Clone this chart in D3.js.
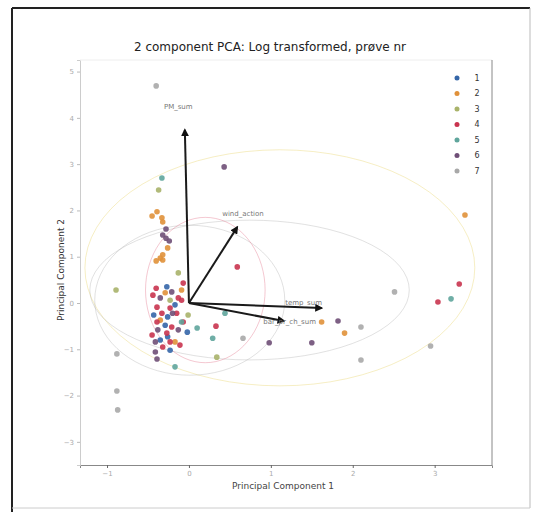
<!DOCTYPE html>
<html>
<head>
<meta charset="utf-8">
<script src="https://cdn.jsdelivr.net/npm/d3@7"></script>
<style>
  body { margin: 0; background: #fff; }
  svg text { font-family: "DejaVu Sans", sans-serif; }
</style>
</head>
<body>
<div id="chart"></div>
<script>
var width = 535,
    height = 515

// groups (prøve nr) and their colours
var groups = ["1", "2", "3", "4", "5", "6", "7"]
var groupColors = ["#3566a8", "#e0913a", "#a9b36a", "#c9344f", "#5fa59c", "#6f4f77", "#a8a8a8"]

// scores: [pc1, pc2] per group
var scores1 = [[-0.27, 0.35], [-0.17, -0.04], [-0.26, -0.30], [-0.29, -0.48], [-0.35, -0.80],
               [-0.02, -0.63], [-0.43, -0.26], [-0.23, -1.02], [-0.26, -0.73]]
var scores2 = [[-0.45, 1.88], [-0.39, 1.97], [-0.33, 1.84], [-0.32, 1.75], [-0.26, 1.19],
               [-0.32, 1.04], [-0.35, 0.97], [-0.40, 0.91], [-0.32, 0.93], [3.37, 1.90],
               [1.90, -0.65], [1.62, -0.41], [-0.09, 0.28], [-0.17, -0.84], [-0.29, 0.22], [-0.35, -0.37]]
var scores3 = [[-0.37, 2.44], [-0.89, 0.28], [-0.13, 0.65], [0.34, -1.17], [-0.01, -0.26], [-0.23, 0.06]]
var scores4 = [[0.59, 0.78], [3.30, 0.41], [3.04, 0.02], [0.33, -0.50], [-0.07, -0.41],
               [-0.40, 0.32], [-0.07, 0.43], [-0.39, -0.09], [-0.33, -0.22], [-0.39, -0.41],
               [-0.21, -0.52], [-0.27, -0.65], [-0.23, -0.84], [-0.15, -0.22], [-0.44, 0.17],
               [-0.13, 0.11], [-0.32, -0.95], [-0.09, 0.06], [-0.23, -0.11], [-0.45, -0.69], [-0.11, -0.91]]
var scores5 = [[-0.33, 2.70], [0.10, -0.54], [0.44, -0.22], [0.29, -0.76], [-0.17, -1.38],
               [-0.09, -0.41], [3.20, 0.09]]
var scores6 = [[-0.28, 1.60], [-0.32, 1.47], [-0.28, 1.40], [-0.24, 1.34], [0.43, 2.94],
               [1.50, -0.86], [-0.39, -1.21], [-0.21, 0.24], [-0.35, 0.11], [-0.20, -0.22],
               [-0.38, -0.58], [-0.41, -0.84], [-0.13, -0.58], [-0.41, -1.06], [0.98, -0.86], [1.82, -0.39]]
var scores7 = [[-0.40, 4.69], [-0.88, -1.90], [-0.87, -2.31], [-0.88, -1.10], [2.51, 0.24],
               [2.95, -0.93], [2.10, -0.52], [2.10, -1.23], [0.66, -0.76]]
var scoresByGroup = [scores1, scores2, scores3, scores4, scores5, scores6, scores7]

// loadings (arrow tips) and where their names sit
var loadingNames = ["PM_sum", "wind_action", "temp_sum", "bar_pr_ch_sum"]
var loadingX = [-0.05, 0.59, 1.62, 1.16]
var loadingY = [3.74, 1.64, -0.11, -0.39]
var labelX = [-0.13, 0.66, 1.40, 1.23]
var labelY = [4.25, 1.94, 0.00, -0.39]

// confidence ellipses: centre, radii (data units), colour
var ellipseCx = [1.11, 0.74, 0.01, 0.20]
var ellipseCy = [0.76, 0.28, 0.06, 0.28]
var ellipseRx = [2.38, 1.95, 1.16, 0.73]
var ellipseRy = [2.55, 1.51, 1.62, 1.57]
var ellipseColors = ["#e6cf55", "#aaaaaa", "#aaaaaa", "#e0607a"]

var xTicks = [-1, 0, 1, 2, 3]
var yTicks = [-3, -2, -1, 0, 1, 2, 3, 4, 5]

var svg = d3.select('#chart')
  .append('svg')
  .attr('width', width)
  .attr('height', height)

// scanned page frame
svg.append('line').attr('x1', 12).attr('y1', 8).attr('x2', 530).attr('y2', 8)
  .attr('stroke', '#222').attr('stroke-width', 2)
svg.append('line').attr('x1', 12).attr('y1', 8).attr('x2', 12).attr('y2', 512)
  .attr('stroke', '#222').attr('stroke-width', 2)
svg.append('line').attr('x1', 530).attr('y1', 8).attr('x2', 530).attr('y2', 508)
  .attr('stroke', '#bbb').attr('stroke-width', 1)
svg.append('line').attr('x1', 12).attr('y1', 508).attr('x2', 530).attr('y2', 508)
  .attr('stroke', '#ccc').attr('stroke-width', 1)

const x = d3.scaleLinear().domain([-1.33, 3.70]).range([80, 492])
const y = d3.scaleLinear().domain([-3.5, 5.25]).range([465, 60])

// ellipses
var ellipseLine = d3.line().curve(d3.curveLinearClosed)
ellipseCx.forEach(function (cx, i) {
  var pts = d3.range(0, 72).map(function (k) {
    var t = k / 72 * 2 * Math.PI
    return [x(cx + ellipseRx[i] * Math.cos(t)), y(ellipseCy[i] + ellipseRy[i] * Math.sin(t))]
  })
  svg.append('path')
    .attr('d', ellipseLine(pts))
    .attr('fill', 'none')
    .attr('stroke', ellipseColors[i])
    .attr('stroke-opacity', 0.35)
    .attr('stroke-width', 1)
})

// axes
svg.append('g')
  .attr('transform', 'translate(0,465)')
  .call(d3.axisBottom(x).tickValues(xTicks).tickSize(3).tickFormat(d3.format('d')))
  .call(g => g.select('.domain').attr('stroke', '#888'))
  .call(g => g.selectAll('.tick line').attr('stroke', '#666'))
  .call(g => g.selectAll('text').attr('fill', '#aaa').attr('font-size', 7))

svg.append('g')
  .attr('transform', 'translate(80,0)')
  .call(d3.axisLeft(y).tickValues(yTicks).tickSize(3).tickFormat(d3.format('d')))
  .call(g => g.select('.domain').attr('stroke', '#ccc'))
  .call(g => g.selectAll('.tick line').attr('stroke', '#bbb'))
  .call(g => g.selectAll('text').attr('fill', '#aaa').attr('font-size', 7))

svg.append('line').attr('x1', 80).attr('y1', 60).attr('x2', 492).attr('y2', 60)
  .attr('stroke', '#eee')
svg.append('line').attr('x1', 492).attr('y1', 60).attr('x2', 492).attr('y2', 465)
  .attr('stroke', '#888')

// points
scoresByGroup.forEach(function (pts, gi) {
  svg.append('g').selectAll('circle')
    .data(pts)
    .enter().append('circle')
    .attr('cx', d => x(d[0]))
    .attr('cy', d => y(d[1]))
    .attr('r', 2.8)
    .attr('fill', groupColors[gi])
    .attr('fill-opacity', 0.9)
})

// loading arrows
svg.append('defs').append('marker')
  .attr('id', 'head')
  .attr('viewBox', '0 0 10 10')
  .attr('refX', 8).attr('refY', 5)
  .attr('markerWidth', 4).attr('markerHeight', 4)
  .attr('orient', 'auto')
  .append('path').attr('d', 'M0,0L10,5L0,10z').attr('fill', '#111')

loadingNames.forEach(function (name, i) {
  svg.append('line')
    .attr('x1', x(0)).attr('y1', y(0))
    .attr('x2', x(loadingX[i])).attr('y2', y(loadingY[i]))
    .attr('stroke', '#1a1a1a')
    .attr('stroke-width', 2)
    .attr('marker-end', 'url(#head)')
  svg.append('text')
    .attr('x', x(labelX[i])).attr('y', y(labelY[i]))
    .attr('dy', '0.35em')
    .attr('text-anchor', 'middle')
    .attr('font-size', 7)
    .attr('fill', '#777')
    .text(name)
})

// legend
var legend = svg.append('g').selectAll('g')
  .data(groups)
  .enter().append('g')
  .attr('transform', (d, i) => 'translate(457,' + (78 + i * 15.5) + ')')
legend.append('circle').attr('r', 2.5).attr('fill', (d, i) => groupColors[i])
legend.append('text')
  .attr('x', 20).attr('dy', '0.35em')
  .attr('text-anchor', 'middle')
  .attr('font-size', 8)
  .attr('fill', '#333')
  .text(d => d)

// titles
svg.append('text')
  .attr('x', 270).attr('y', 51)
  .attr('text-anchor', 'middle')
  .attr('font-size', 12)
  .attr('fill', '#222')
  .text('2 component PCA: Log transformed, prøve nr')

svg.append('text')
  .attr('x', 283).attr('y', 489)
  .attr('text-anchor', 'middle')
  .attr('font-size', 9)
  .attr('fill', '#444')
  .text('Principal Component 1')

svg.append('text')
  .attr('transform', 'translate(64,270)rotate(-90)')
  .attr('text-anchor', 'middle')
  .attr('font-size', 9)
  .attr('fill', '#333')
  .text('Principal Component 2')
</script>
</body>
</html>
